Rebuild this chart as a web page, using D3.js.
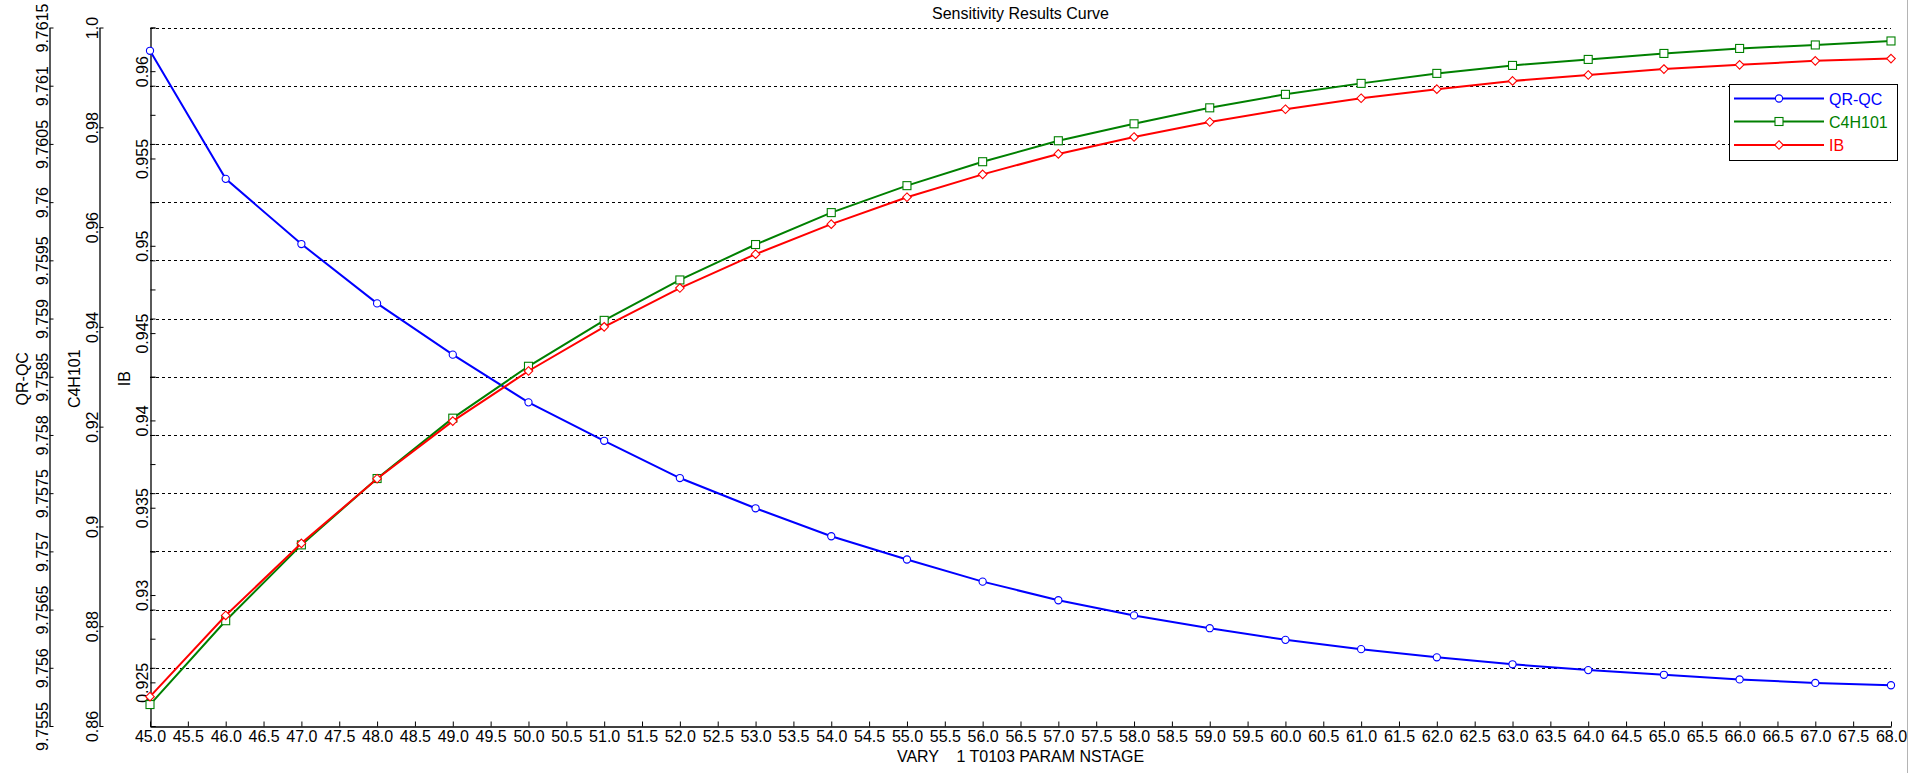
<!DOCTYPE html>
<html>
<head>
<meta charset="utf-8">
<script src="https://cdn.jsdelivr.net/npm/d3@7/dist/d3.min.js"></script>
<style>
  html, body { margin: 0; padding: 0; background: #fff; }
  svg { display: block; font-family: "Liberation Sans", Arial, sans-serif; }
  text { fill: #000; }
</style>
</head>
<body>
<svg id="chart" width="1911" height="773"></svg>
<script>
// ---------------- data ----------------
const xValues = [45,46,47,48,49,50,51,52,53,54,55,56,57,58,59,60,61,62,63,64,65,66,67,68];

const qrqc = [9.76130,9.76020,9.75964,9.75913,9.75869,9.75828,9.75795,9.75763,9.75737,9.75713,
              9.75693,9.75674,9.75658,9.75645,9.75634,9.75624,9.75616,9.75609,9.75603,9.75598,
              9.75594,9.75590,9.75587,9.75585];

const c4h101 = [0.8643,0.8811,0.8963,0.9096,0.9217,0.9321,0.9413,0.9494,0.9565,0.9629,
                0.9683,0.9731,0.9773,0.9807,0.9839,0.9866,0.9888,0.9908,0.9924,0.9936,
                0.9948,0.9958,0.9965,0.9973];

const ib = [0.92418,0.92883,0.93296,0.93666,0.93996,0.94283,0.94536,0.94758,0.94952,0.95124,
            0.95278,0.95409,0.95526,0.95623,0.95709,0.95782,0.95845,0.95897,0.95944,0.95978,
            0.96012,0.96036,0.96059,0.96072];

const qrqcTicks = [9.7555,9.756,9.7565,9.757,9.7575,9.758,9.7585,9.759,9.7595,9.76,9.7605,9.761,9.7615];
const qrqcTickLabels = ["9.7555","9.756","9.7565","9.757","9.7575","9.758","9.7585","9.759","9.7595","9.76","9.7605","9.761","9.7615"];
const c4Ticks = [0.86,0.88,0.90,0.92,0.94,0.96,0.98,1.0];
const c4TickLabels = ["0.86","0.88","0.9","0.92","0.94","0.96","0.98","1.0"];
const ibTicks = [0.925,0.93,0.935,0.94,0.945,0.95,0.955,0.96];
const ibTickLabels = ["0.925","0.93","0.935","0.94","0.945","0.95","0.955","0.96"];
const ibMinorTicks = [0.9225,0.9275,0.9325,0.9375,0.9425,0.9475,0.9525,0.9575,0.9625];
const xTicks = d3.range(0, 47).map(i => 45 + i * 0.5);

const seriesNames = ["QR-QC", "C4H101", "IB"];
const seriesColors = ["#0000ff", "#008000", "#ff0000"];
const seriesMarkers = ["circle", "square", "diamond"];

const chartTitle = "Sensitivity Results Curve";
const xTitle = "VARY    1 T0103 PARAM NSTAGE";

// ---------------- layout ----------------
const svg = d3.select("#chart");
const pLeft = 150, pRight = 1891, pTop = 27.5, pBottom = 726;
const axQ = 49.5, axC = 99.5;
const FS = 16;

const x = d3.scaleLinear().domain([45, 68]).range([pLeft, pRight]);
const yQ = d3.scaleLinear().domain([9.7555, 9.7615]).range([pBottom, pTop]);
const yC = d3.scaleLinear().domain([0.86, 1.0]).range([pBottom, pTop]);
const yI = d3.scaleLinear().domain([0.9225, 0.9625]).range([pBottom, pTop]);

// window edge line
svg.append("line").attr("x1", 1907.5).attr("x2", 1907.5).attr("y1", 0).attr("y2", 773)
  .attr("stroke", "#b4b4b4").attr("stroke-width", 1);

// grid (dashed) at QR-QC ticks
svg.append("g").selectAll("line").data(qrqcTicks.slice(1)).join("line")
  .attr("x1", pLeft).attr("x2", pRight)
  .attr("y1", d => Math.round(yQ(d)) + 0.5).attr("y2", d => Math.round(yQ(d)) + 0.5)
  .attr("stroke", "#000").attr("stroke-width", 1).attr("stroke-dasharray", "3,3");

// ---------------- left axes ----------------
function rotLabels(g, offset) {
  g.selectAll(".tick text")
    .attr("x", null).attr("dy", null)
    .attr("transform", `translate(${offset},0) rotate(-90)`)
    .attr("text-anchor", "middle")
    .attr("y", 0);
}

const gQ = svg.append("g").attr("transform", `translate(${axQ},0)`)
  .call(d3.axisLeft(yQ).tickValues(qrqcTicks).tickFormat((d, i) => qrqcTickLabels[i]).tickSize(-4).tickSizeOuter(0));
rotLabels(gQ, -2);

const gC = svg.append("g").attr("transform", `translate(${axC},0)`)
  .call(d3.axisLeft(yC).tickValues(c4Ticks).tickFormat((d, i) => c4TickLabels[i]).tickSize(-4).tickSizeOuter(0));
rotLabels(gC, -2);

const gI = svg.append("g").attr("transform", `translate(${pLeft + 0.5},0)`)
  .call(d3.axisLeft(yI).tickValues(ibTicks).tickFormat((d, i) => ibTickLabels[i]).tickSize(-5).tickSizeOuter(0));
rotLabels(gI, -3);
svg.append("g").attr("transform", `translate(${pLeft + 0.5},0)`)
  .call(d3.axisLeft(yI).tickValues(ibMinorTicks).tickFormat("").tickSize(-5).tickSizeOuter(0))
  .select(".domain").remove();
svg.append("g").attr("transform", `translate(${pLeft + 0.5},0)`)
  .call(d3.axisLeft(yQ).tickValues(qrqcTicks).tickFormat("").tickSize(-5).tickSizeOuter(0))
  .select(".domain").remove();

[gQ, gC, gI].forEach(g => {
  g.selectAll("text").attr("font-size", FS).attr("font-family", "Liberation Sans, Arial, sans-serif").attr("fill", "#000");
  g.select(".domain").attr("stroke", "#000").attr("stroke-width", 1.3);
});
svg.selectAll(".tick line").attr("stroke", "#000").attr("stroke-width", 1);

const axisTitles = [{t: "QR-QC", x: 27.5}, {t: "C4H101", x: 80}, {t: "IB", x: 130}];
svg.append("g").selectAll("text").data(axisTitles).join("text")
  .attr("transform", d => `translate(${d.x},${(pTop + pBottom) / 2 + 2}) rotate(-90)`)
  .attr("text-anchor", "middle").attr("font-size", FS).text(d => d.t);

// ---------------- x axis ----------------
const gX = svg.append("g").attr("transform", `translate(0,${pBottom + 0.5})`)
  .call(d3.axisBottom(x).tickValues(xTicks).tickFormat(d3.format(".1f")).tickSize(-5).tickSizeOuter(0).tickPadding(4));
gX.selectAll("text").attr("font-size", FS).attr("font-family", "Liberation Sans, Arial, sans-serif").attr("fill", "#000");
gX.select(".domain").attr("stroke", "#000").attr("stroke-width", 1.3);
gX.selectAll(".tick line").attr("stroke", "#000");

svg.append("text").attr("x", (pLeft + pRight) / 2).attr("y", 762)
  .attr("text-anchor", "middle").attr("font-size", FS)
  .style("white-space", "pre").attr("xml:space", "preserve").text(xTitle);

svg.append("text").attr("x", (pLeft + pRight) / 2).attr("y", 19)
  .attr("text-anchor", "middle").attr("font-size", FS).text(chartTitle);

// ---------------- series ----------------
const series = [
  {name: seriesNames[0], color: seriesColors[0], marker: seriesMarkers[0], y: yQ, values: qrqc},
  {name: seriesNames[1], color: seriesColors[1], marker: seriesMarkers[1], y: yC, values: c4h101},
  {name: seriesNames[2], color: seriesColors[2], marker: seriesMarkers[2], y: yI, values: ib}
];

function drawMarker(g, type, cx, cy, color) {
  if (type === "circle") {
    g.append("circle").attr("cx", cx).attr("cy", cy).attr("r", 3.6)
      .attr("fill", "#fff").attr("stroke", color).attr("stroke-width", 1.1);
  } else if (type === "square") {
    g.append("rect").attr("x", cx - 4).attr("y", cy - 4).attr("width", 8).attr("height", 8)
      .attr("fill", "#fff").attr("stroke", color).attr("stroke-width", 1.1);
  } else {
    const r = 4.3;
    g.append("path").attr("d", `M${cx},${cy - r}L${cx + r},${cy}L${cx},${cy + r}L${cx - r},${cy}Z`)
      .attr("fill", "#fff").attr("stroke", color).attr("stroke-width", 1.1);
  }
}

series.forEach(s => {
  const pts = xValues.map((xv, i) => [x(xv), s.y(s.values[i])]);
  svg.append("path").datum(pts)
    .attr("d", d3.line())
    .attr("fill", "none").attr("stroke", s.color).attr("stroke-width", 2);
  const mg = svg.append("g");
  pts.forEach(p => drawMarker(mg, s.marker, p[0], p[1], s.color));
});

// ---------------- legend ----------------
const lg = svg.append("g");
lg.append("rect").attr("x", 1729.5).attr("y", 84.5).attr("width", 168).attr("height", 76)
  .attr("fill", "#fff").attr("stroke", "#000").attr("stroke-width", 1);
const rowY = [98.5, 121.5, 145];
series.forEach((s, i) => {
  lg.append("line").attr("x1", 1734).attr("x2", 1824).attr("y1", rowY[i]).attr("y2", rowY[i])
    .attr("stroke", s.color).attr("stroke-width", 2);
  drawMarker(lg, s.marker, 1779, rowY[i], s.color);
  lg.append("text").attr("x", 1829).attr("y", rowY[i] + 6).attr("font-size", FS)
    .style("fill", s.color).text(s.name);
});
</script>
</body>
</html>
